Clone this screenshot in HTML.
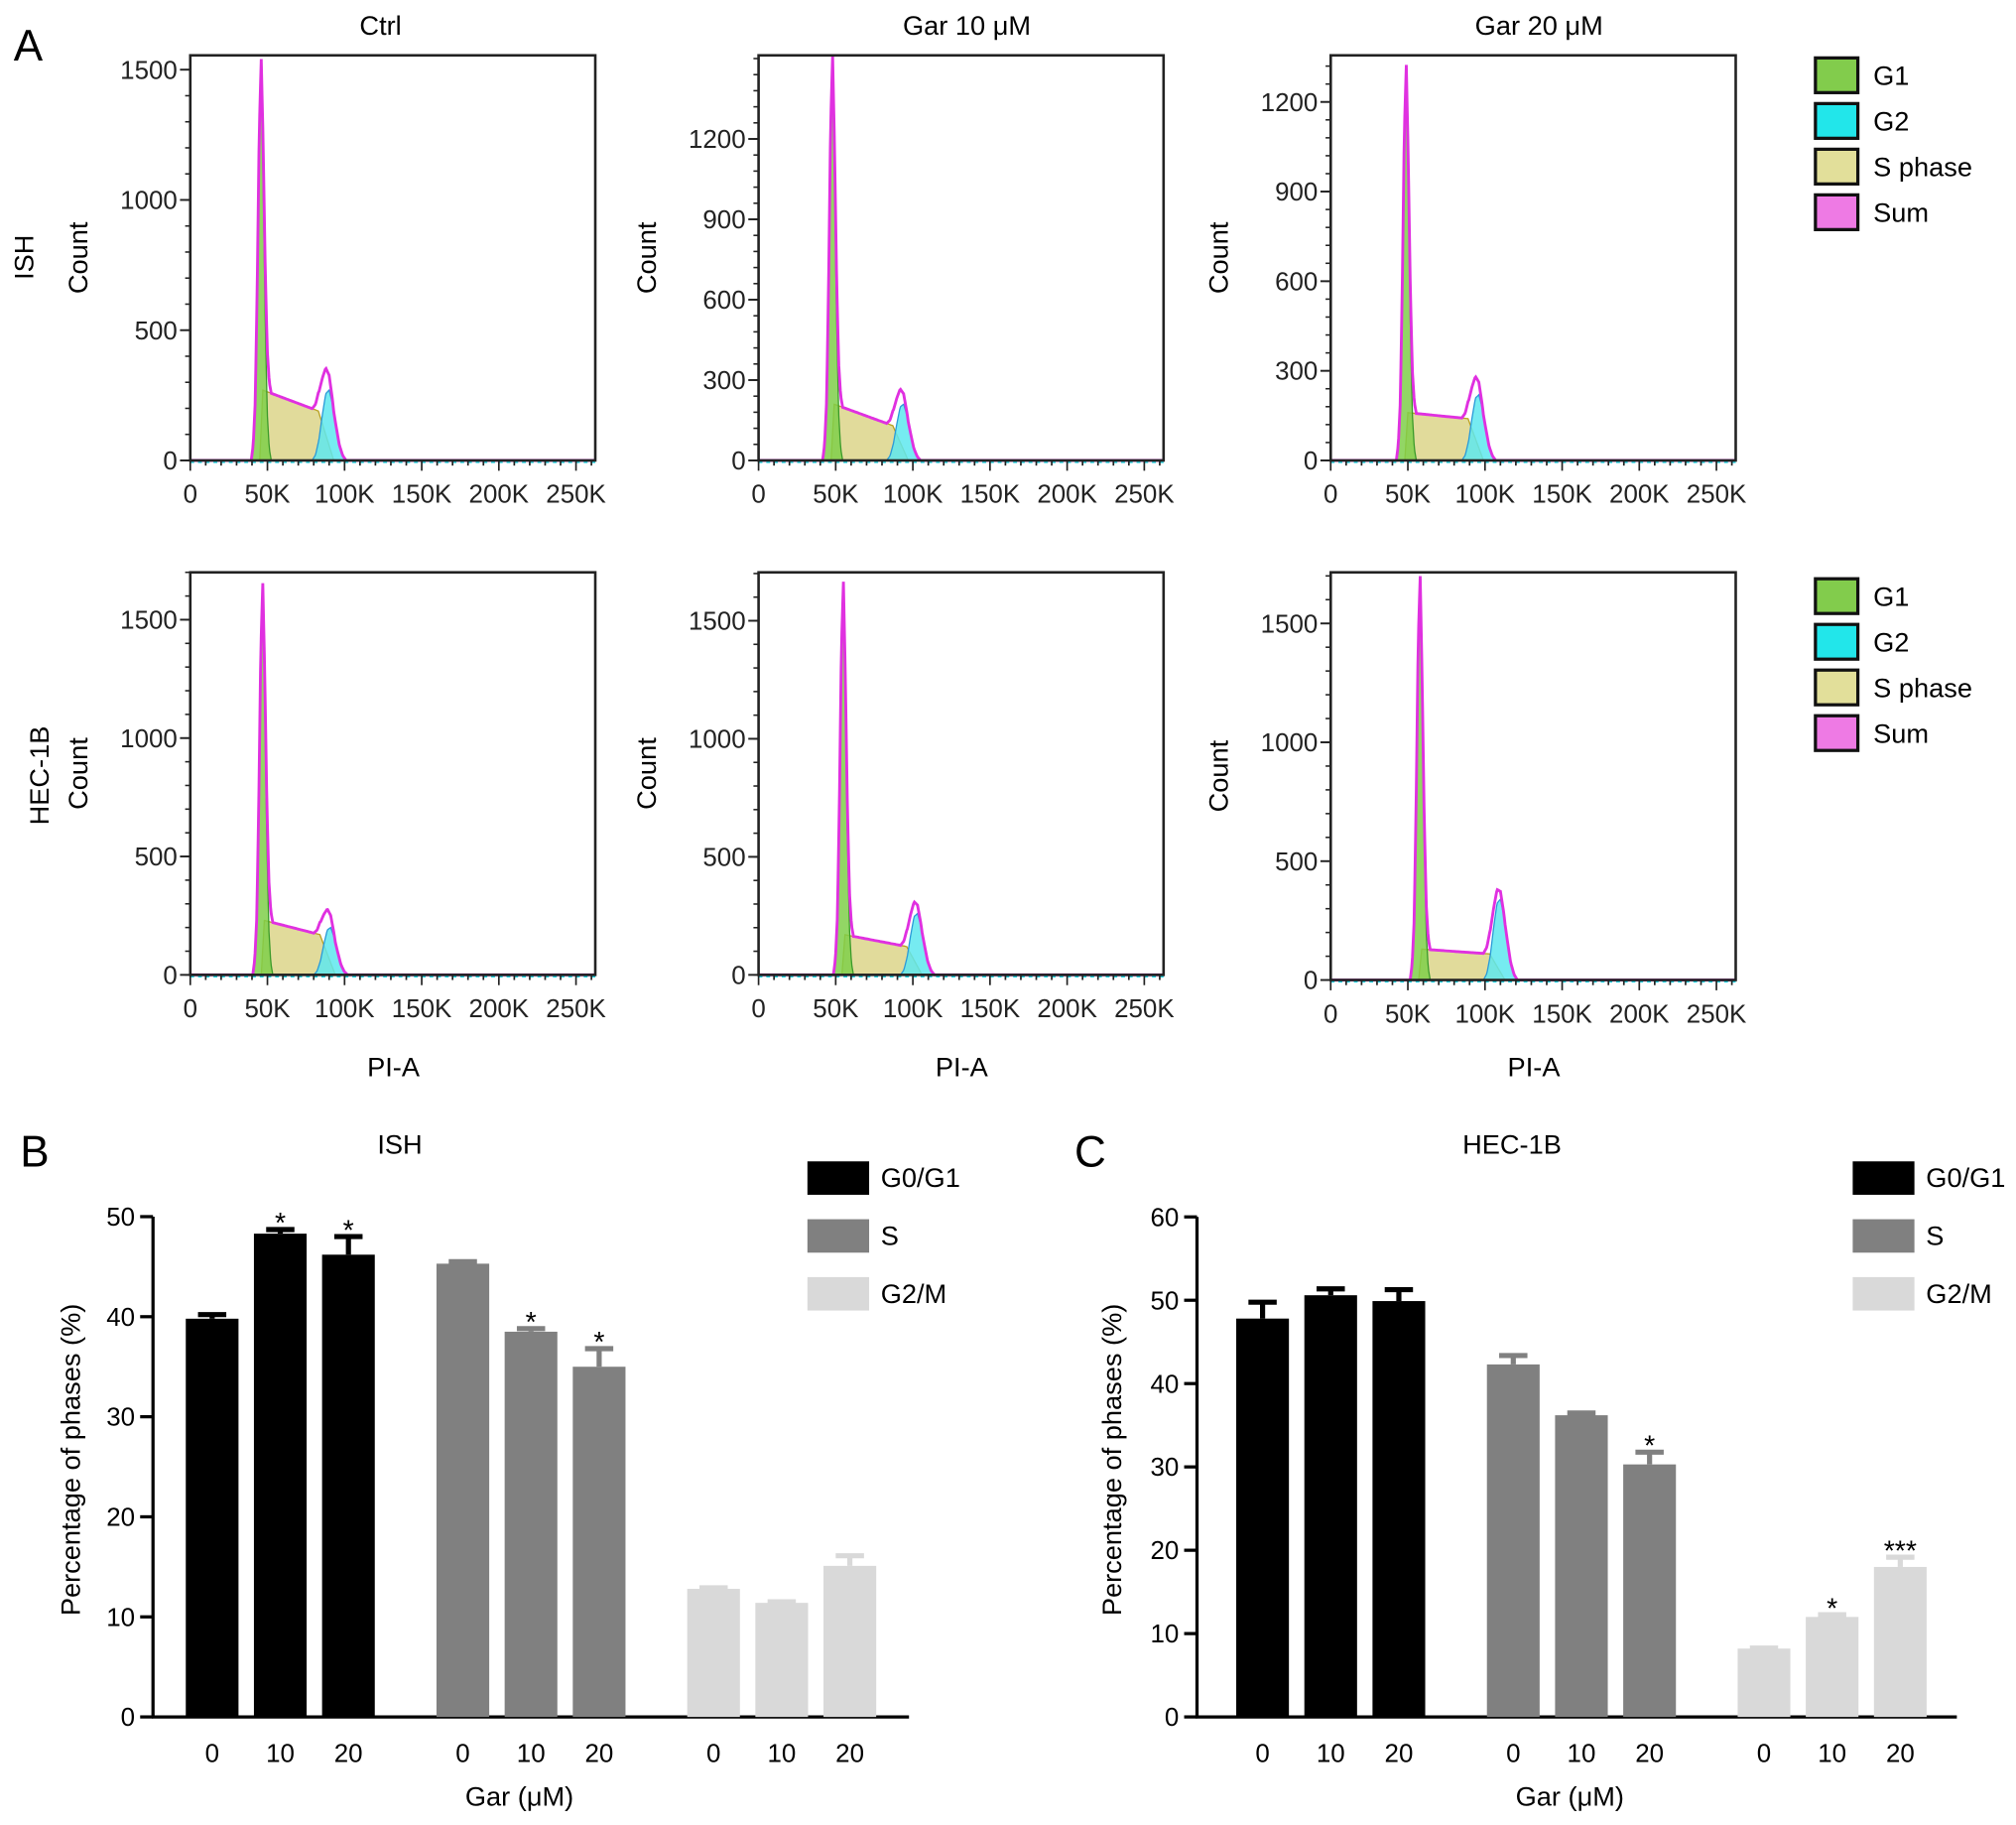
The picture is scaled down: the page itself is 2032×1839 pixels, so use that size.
<!DOCTYPE html>
<html><head><meta charset="utf-8"><style>
html,body{margin:0;padding:0;background:#fff}
svg{display:block;font-family:"Liberation Sans",sans-serif}
</style></head><body>
<svg id="fig" width="2032" height="1839" viewBox="0 0 1568 1419" xmlns="http://www.w3.org/2000/svg"></svg>
<script>
// ---------- Histogram data (panel A) ----------
const histTitles = ["Ctrl", "Gar 10 \u03bcM", "Gar 20 \u03bcM"];
const histRows = ["ISH", "HEC-1B"];
const g1Center = [[46, 48, 49], [47, 55, 58]];
const g1Height = [[1500, 1480, 1300], [1620, 1640, 1680]];
const g2Center = [[90, 94, 96], [91, 103, 110]];
const g2Height = [[270, 210, 220], [200, 260, 340]];
const sStart = [[270, 210, 160], [230, 170, 130]];
const sEnd = [[190, 130, 140], [170, 120, 110]];
const yTicks = [[[0, 500, 1000, 1500], [0, 300, 600, 900, 1200], [0, 300, 600, 900, 1200]],
                [[0, 500, 1000, 1500], [0, 500, 1000, 1500], [0, 500, 1000, 1500]]];
const yMax = [[1555, 1512, 1356], [1700, 1705, 1715]];
const xTicks = [0, 50, 100, 150, 200, 250];
const xTickLabels = ["0", "50K", "100K", "150K", "200K", "250K"];
const g1Profile = [0, 0.04, 0.15, 0.45, 0.85, 1, 0.7, 0.35, 0.12, 0.03, 0];
const g2Profile = [0, 0.08, 0.3, 0.65, 0.95, 1, 0.8, 0.5, 0.22, 0.07, 0];
const legendLabels = ["G1", "G2", "S phase", "Sum"];
const legendColors = ["#82cc4c", "#22e6ea", "#e2df9a", "#ee7ae4"];

// ---------- Bar chart data (panels B, C) ----------
const doses = ["0", "10", "20"];
const phases = ["G0/G1", "S", "G2/M"];
const ishMeans = [[39.8, 48.3, 46.2], [45.3, 38.5, 35.0], [12.8, 11.4, 15.1]];
const ishErr = [[0.6, 0.6, 2.0], [0.4, 0.5, 2.0], [0.3, 0.3, 1.2]];
const ishStars = [["", "*", "*"], ["", "*", "*"], ["", "", ""]];
const hecMeans = [[47.8, 50.6, 49.9], [42.3, 36.2, 30.3], [8.2, 12.0, 18.0]];
const hecErr = [[2.2, 1.0, 1.6], [1.3, 0.5, 1.7], [0.3, 0.5, 1.4]];
const hecStars = [["", "", ""], ["", "", "*"], ["", "*", "***"]];
const ishTicks = [0, 10, 20, 30, 40, 50];
const hecTicks = [0, 10, 20, 30, 40, 50, 60];
const barColors = ["#000000", "#808080", "#d9d9d9"];

const NS = "http://www.w3.org/2000/svg";
const svg = document.getElementById("fig");
function mk(tag, attrs, parent, txt) {
  const e = document.createElementNS(NS, tag);
  for (const k in attrs) e.setAttribute(k, attrs[k]);
  if (txt !== undefined) e.textContent = txt;
  (parent || svg).appendChild(e);
  return e;
}
function interp(profile, start, step, x) {
  const t = (x - start) / step;
  if (t <= 0 || t >= profile.length - 1) return 0;
  const i = Math.floor(t), f = t - i;
  return profile[i] * (1 - f) + profile[i + 1] * f;
}

let t;
t = mk("text", {x: 22, y: 47, "font-size": 34, "text-anchor": "middle"}, svg, "A");



const colX = [148, 590, 1035];
const rowTop = [43, 445];
const yZero = [[358, 358, 358], [758, 758, 762]];
for (let r = 0; r < 2; r++) {
  for (let c = 0; c < 3; c++) {
    const g = mk("g", {});
    
    
    const x0 = colX[c], top = rowTop[r], y0 = yZero[r][c];
    const ppc = (y0 - top) / yMax[r][c];
    const X = k => x0 + k * 1.2;
    const Y = v => Math.max(top, y0 - v * ppc);
    const g1 = [], g2 = [], s = [], sum = [];
    const gc = g1Center[r][c], gh = g1Height[r][c], hc = g2Center[r][c], hh = g2Height[r][c];
    const ss = sStart[r][c], se = sEnd[r][c];
    for (let k = 20; k <= 140; k += 0.5) {
      const a = gh * interp(g1Profile, gc - 6.5, 1.3, k);
      const b = hh * interp(g2Profile, hc - 11, 2.2, k);
      let sv = 0;
      const fadeStart = hc - 7, fadeEnd = hc + 3;
      if (k >= gc + 1 && k <= fadeStart) sv = ss + (se - ss) * (k - gc - 1) / (fadeStart - gc - 1);
      else if (k > gc - 1 && k < gc + 1) sv = ss * (k - gc + 1) / 2;
      else if (k > fadeStart && k < fadeEnd) sv = se * (1 - (k - fadeStart) / (fadeEnd - fadeStart));
      g1.push([k, a]); g2.push([k, b]); s.push([k, sv]); sum.push([k, a + b + sv * 0.3 + (a > 0 ? 0 : sv * 0.7) + (a > 0 ? sv * 0.7 * (1 - a / gh) : 0)]);
    }
    const poly = (arr, fill, stroke, name) => {
      let d = "M" + X(arr[0][0]) + "," + y0;
      arr.forEach(p => d += " L" + X(p[0]).toFixed(1) + "," + Y(p[1]).toFixed(1));
      d += " L" + X(arr[arr.length - 1][0]) + "," + y0 + " Z";
      const e = mk("path", {d: d, fill: fill, stroke: stroke, "stroke-width": 1, "fill-opacity": 0.85}, g);
      
      
    };
    poly(s, "#dcd58a", "#b8a020", "s-phase-area");
    poly(g2, "#5ee8ee", "#2a9ad8", "g2-area");
    poly(g1, "#7fcf4a", "#3b9a2a", "g1-area");
    let d = "M" + X(0) + "," + y0 + " L" + X(20) + "," + y0;
    sum.forEach(p => d += " L" + X(p[0]).toFixed(1) + "," + Y(p[1]).toFixed(1));
    d += " L" + X(262) + "," + y0;
    const sl = mk("path", {d: d, fill: "none", stroke: "#e030e0", "stroke-width": 2.2}, g);
    
    
    const bl = mk("line", {x1: x0, x2: x0 + 315, y1: y0 + 1, y2: y0 + 1, stroke: "#22d0e0", "stroke-width": 2, "stroke-dasharray": "3,3"}, g);
    
    
    const fr = mk("rect", {x: x0, y: top, width: 315, height: y0 - top, fill: "none", stroke: "#222", "stroke-width": 2}, g);
    
    
    const yt = yTicks[r][c];
    const step = yt[1] - yt[0];
    for (let v = 0; v <= yMax[r][c]; v += step / 5) {
      mk("line", {x1: x0 - 4, x2: x0, y1: Y(v), y2: Y(v), stroke: "#222", "stroke-width": 1.2}, g);
    }
    yt.forEach(v => {
      mk("line", {x1: x0 - 8, x2: x0, y1: Y(v), y2: Y(v), stroke: "#222", "stroke-width": 1.5}, g);
      const tl = mk("text", {x: x0 - 10, y: Y(v) + 7, "font-size": 20, "text-anchor": "end", fill: "#222"}, g, String(v));
      
      
    });
    for (let k = 0; k <= 260; k += 10) {
      mk("line", {x1: X(k), x2: X(k), y1: y0, y2: y0 + (k % 50 === 0 ? 8 : 4), stroke: "#222", "stroke-width": 1.3}, g);
    }
    xTicks.forEach((k, i) => {
      const tl = mk("text", {x: X(k), y: y0 + 33, "font-size": 20, "text-anchor": "middle", fill: "#222"}, g, xTickLabels[i]);
      
      
    });
    const yl = mk("text", {x: 0, y: 0, "font-size": 21, "text-anchor": "middle", transform: `translate(${x0 - 80},${(top + y0) / 2}) rotate(-90)`}, g, "Count");
    
    
    if (r === 0) {
      const tt = mk("text", {x: x0 + 148 + (c > 0 ? 14 : 0), y: 27, "font-size": 21, "text-anchor": "middle"}, g, histTitles[c]);
      
      
    } else {
      const xl = mk("text", {x: x0 + 158, y: 837, "font-size": 21, "text-anchor": "middle"}, g, "PI-A");
      
      
    }
  }
  const rl = mk("text", {x: 0, y: 0, "font-size": 21, "text-anchor": "middle", transform: `translate(${r === 0 ? 26 : 38},${r === 0 ? 200 : 603}) rotate(-90)`}, svg, histRows[r]);
  
  
  const ly = [45, 450][r];
  legendLabels.forEach((lab, i) => {
    const sq = mk("rect", {x: 1412, y: ly + i * 35.5, width: 33, height: 27, fill: legendColors[i], stroke: "#111", "stroke-width": 2.5});
    
    
    const lt = mk("text", {x: 1457, y: ly + i * 35.5 + 21, "font-size": 21}, svg, lab);
    
    
  });
}

// ---------- Bar charts ----------
function barChart(o) {
  const g = mk("g", {});
  
  
  const Y = v => o.y0 - v * o.ppu;
  const pl = mk("text", {x: o.labX, y: 907, "font-size": 34, "text-anchor": "middle"}, g, o.letter);
  
  
  const tt = mk("text", {x: o.titleX, y: 897, "font-size": 21, "text-anchor": "middle"}, g, o.title);
  
  
  mk("line", {x1: o.ax, x2: o.ax, y1: Y(o.ticks[o.ticks.length - 1]), y2: o.y0 + 1, stroke: "#000", "stroke-width": 2.5}, g);
  mk("line", {x1: o.ax - 1, x2: o.axEnd, y1: o.y0, y2: o.y0, stroke: "#000", "stroke-width": 2.5}, g);
  o.ticks.forEach(v => {
    mk("line", {x1: o.ax - 10, x2: o.ax, y1: Y(v), y2: Y(v), stroke: "#000", "stroke-width": 2.5}, g);
    const tl = mk("text", {x: o.ax - 14, y: Y(v) + 7, "font-size": 20, "text-anchor": "end"}, g, String(v));
    
    
  });
  const yl = mk("text", {x: 0, y: 0, "font-size": 21, "text-anchor": "middle", transform: `translate(${o.ylX},${1135}) rotate(-90)`}, g, "Percentage of phases (%)");
  
  
  const xl = mk("text", {x: o.xlX, y: 1404, "font-size": 21, "text-anchor": "middle"}, g, "Gar (\u03bcM)");
  
  
  const bw = 41;
  for (let p = 0; p < 3; p++) {
    for (let d = 0; d < 3; d++) {
      const cx = o.start + p * o.groupStep + d * o.barStep;
      const v = o.means[p][d], e = o.err[p][d];
      const b = mk("rect", {x: cx - bw / 2, y: Y(v), width: bw, height: o.y0 - Y(v), fill: barColors[p]}, g);
      
      
      mk("line", {x1: cx, x2: cx, y1: Y(v), y2: Y(v + e), stroke: barColors[p], "stroke-width": 4}, g);
      mk("line", {x1: cx - 11, x2: cx + 11, y1: Y(v + e) + 1.5, y2: Y(v + e) + 1.5, stroke: barColors[p], "stroke-width": 4}, g);
      if (o.stars[p][d]) {
        const st = mk("text", {x: cx, y: Y(v + e) + 4, "font-size": 22, "text-anchor": "middle"}, g, o.stars[p][d]);
        
        
      }
      const dl = mk("text", {x: cx, y: 1370, "font-size": 20, "text-anchor": "middle"}, g, doses[d]);
      
      
    }
  }
  phases.forEach((ph, i) => {
    const sq = mk("rect", {x: o.legX, y: 903 + i * 45, width: 48, height: 26, fill: barColors[i]}, g);
    
    
    const lt = mk("text", {x: o.legX + 57, y: 923 + i * 45, "font-size": 21}, g, ph);
    
    
  });
}
barChart({name: "bar-chart-ish", letter: "B", labX: 27, title: "ISH", titleX: 311, ax: 119, axEnd: 707, y0: 1335, ppu: 7.78,
  ticks: ishTicks, means: ishMeans, err: ishErr, stars: ishStars, start: 165, groupStep: 195, barStep: 53,
  ylX: 62, xlX: 404, legX: 628});
barChart({name: "bar-chart-hec1b", letter: "C", labX: 848, title: "HEC-1B", titleX: 1176, ax: 931, axEnd: 1522, y0: 1335, ppu: 6.48,
  ticks: hecTicks, means: hecMeans, err: hecErr, stars: hecStars, start: 982, groupStep: 195, barStep: 53,
  ylX: 872, xlX: 1221, legX: 1441});
</script>
</body></html>
